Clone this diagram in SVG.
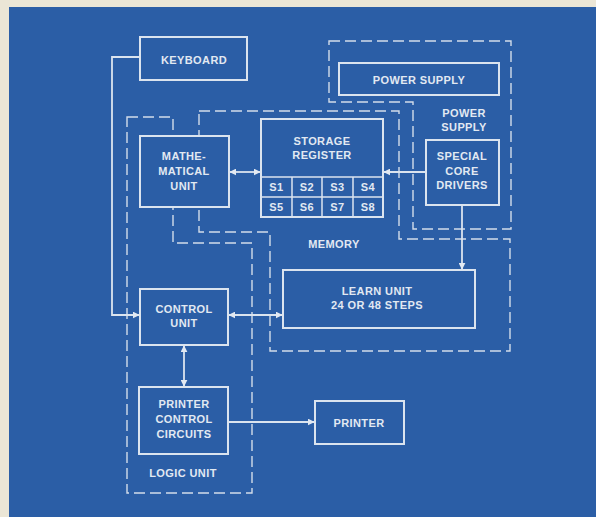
<svg xmlns="http://www.w3.org/2000/svg" width="596" height="517" viewBox="0 0 596 517">
<style>
.box{fill:#2b5ea6;stroke:#dbe4ef;stroke-width:2}
.grid{fill:none;stroke:#dbe4ef;stroke-width:1.5}
.dash{fill:none;stroke:#d3ddea;stroke-width:1.4;stroke-dasharray:11 5}
.ln{fill:none;stroke:#dbe4ef;stroke-width:1.8}
text{font-family:"Liberation Sans",Arial,sans-serif;font-weight:bold;font-size:11px;fill:#e2e9f2;text-anchor:middle;letter-spacing:0.4px}
</style>
<defs>
<marker id="ah" viewBox="0 0 10 10" refX="9" refY="5" markerWidth="7" markerHeight="7" markerUnits="userSpaceOnUse" orient="auto-start-reverse">
<path d="M0,0 L10,5 L0,10 z" fill="#e2e9f2"/>
</marker>
</defs>
<rect x="0" y="0" width="596" height="517" fill="#ebe6d6"/>
<rect x="9" y="7" width="587" height="510" fill="#2b5ea6"/>

<g id="boundaries">
<path id="power-supply-boundary" class="dash" d="M329,41 H511 V229 H413 V102 H329 Z"/>
<path id="memory-boundary" class="dash" d="M199,111 H399 V239 H510 V351 H270 V232 H199 Z"/>
<path id="logic-unit-boundary" class="dash" d="M127,117 H173 V243 H252 V493 H127 Z"/>
<text x="464" y="117">POWER</text>
<text x="464" y="131">SUPPLY</text>
<text x="334" y="248">MEMORY</text>
<text x="183" y="477">LOGIC UNIT</text>
</g>

<g id="connectors">
<path class="ln" d="M140,57 H112 V315 H139" marker-end="url(#ah)"/>
<path class="ln" d="M230,172 H260" marker-start="url(#ah)" marker-end="url(#ah)"/>
<path class="ln" d="M426,172 H384" marker-end="url(#ah)"/>
<path class="ln" d="M462,205 V269" marker-end="url(#ah)"/>
<path class="ln" d="M229,315 H282" marker-start="url(#ah)" marker-end="url(#ah)"/>
<path class="ln" d="M184,346 V386" marker-start="url(#ah)" marker-end="url(#ah)"/>
<path class="ln" d="M228,422 H314" marker-end="url(#ah)"/>
</g>

<g id="keyboard">
<rect class="box" x="140" y="37" width="107" height="43"/>
<text x="194" y="64">KEYBOARD</text>
</g>

<g id="power-supply">
<rect class="box" x="339" y="63" width="160" height="32"/>
<text x="419" y="84">POWER SUPPLY</text>
</g>

<g id="mathematical-unit">
<rect class="box" x="140" y="136" width="89" height="71"/>
<text x="184" y="160">MATHE-</text>
<text x="184" y="175">MATICAL</text>
<text x="184" y="190">UNIT</text>
</g>

<g id="storage-register">
<rect class="box" x="261" y="119" width="122" height="98"/>
<path class="grid" d="M261,177 H383 M261,197 H383 M292,177 V217 M322,177 V217 M353,177 V217"/>
<text x="322" y="145">STORAGE</text>
<text x="322" y="159">REGISTER</text>
<text x="276.5" y="191">S1</text>
<text x="307" y="191">S2</text>
<text x="337.5" y="191">S3</text>
<text x="368" y="191">S4</text>
<text x="276.5" y="211">S5</text>
<text x="307" y="211">S6</text>
<text x="337.5" y="211">S7</text>
<text x="368" y="211">S8</text>
</g>

<g id="special-core-drivers">
<rect class="box" x="426" y="140" width="73" height="65"/>
<text x="462" y="160">SPECIAL</text>
<text x="462" y="175">CORE</text>
<text x="462" y="189">DRIVERS</text>
</g>

<g id="learn-unit">
<rect class="box" x="283" y="270" width="192" height="58"/>
<text x="377" y="295">LEARN UNIT</text>
<text x="377" y="309">24 OR 48 STEPS</text>
</g>

<g id="control-unit">
<rect class="box" x="140" y="289" width="88" height="56"/>
<text x="184" y="313">CONTROL</text>
<text x="184" y="327">UNIT</text>
</g>

<g id="printer-control-circuits">
<rect class="box" x="139" y="387" width="89" height="67"/>
<text x="184" y="408">PRINTER</text>
<text x="184" y="423">CONTROL</text>
<text x="184" y="438">CIRCUITS</text>
</g>

<g id="printer">
<rect class="box" x="315" y="401" width="89" height="43"/>
<text x="359" y="427">PRINTER</text>
</g>
</svg>
